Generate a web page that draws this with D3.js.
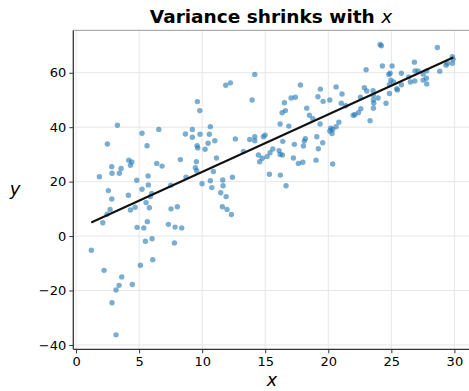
<!DOCTYPE html>
<html>
<head>
<meta charset="utf-8">
<script src="https://cdn.jsdelivr.net/npm/d3@7"></script>
<style>
  body { margin: 0; background: #fff; }
  svg text { font-family: "DejaVu Sans", sans-serif; fill: #000; }
  .grid line { stroke: #e6e6e6; stroke-width: 1; }
  .tick line { stroke: #333; }
</style>
</head>
<body>
<div id="viz"></div>
<script>
// scatter points
var xs = [1.85, 2.48, 3.28, 2.83, 2.85, 3.43, 3.57, 2.56, 4.18, 4.42, 4.31, 4.81, 5.23, 5.63, 5.71, 5.73, 5.23, 6.40, 6.82, 6.56,
  7.51, 8.27, 8.67, 9.22, 9.22, 9.62, 9.81, 9.60, 9.65, 9.83, 9.54, 9.46, 9.57, 9.99, 10.23, 10.47, 10.57, 10.65, 8.72,
  2.83, 4.15, 6.00, 5.89, 5.55, 5.81, 4.68, 4.31, 2.70, 2.46, 2.12, 7.53, 8.03, 5.65, 4.84, 5.37, 7.32, 7.85, 8.38,
  1.21, 5.50, 6.03, 7.80, 6.08, 5.10, 2.22, 3.62, 3.41, 3.17, 4.46, 2.85, 3.17,
  14.17, 11.87, 12.24, 13.96, 11.0, 11.13, 10.89, 10.65, 10.76, 11.63, 11.66, 12.40, 12.63, 13.27, 13.77, 14.17, 14.17,
  14.85, 14.99, 14.46, 14.56, 14.77, 15.15, 15.38, 15.60, 15.33, 16.20, 16.65, 16.10, 16.18, 16.36, 16.18, 16.39, 16.87,
  16.34, 16.60, 16.52, 17.05, 17.39, 17.79, 18.29, 18.50, 18.77, 17.31, 17.23, 17.63, 17.98, 18.03, 18.18, 18.10, 19.09,
  19.21, 19.56, 19.03, 19.35, 19.18, 19.37, 19.59, 20.12, 20.62, 20.20, 20.35, 20.12, 20.30, 20.62, 20.84, 20.35,
  11.47, 11.90, 11.60, 11.97, 12.32,
  24.11, 24.21, 28.65, 29.84, 29.90, 29.84, 29.34, 29.44, 28.84, 26.83, 27.81, 27.12, 26.88, 27.52, 27.78, 27.52, 27.81,
  26.86, 26.51, 26.38, 25.80, 25.80, 25.43, 25.48, 25.06, 24.29, 24.90, 24.80, 24.96, 25.16, 24.85, 24.85, 24.58, 23.00,
  22.86, 23.05, 23.55, 23.58, 23.95, 23.58, 23.61, 23.58, 22.55, 21.09, 21.03, 21.39, 22.58, 22.39, 22.10, 21.98, 23.31];
var ys = [21.8, 33.8, 40.7, 25.5, 23.1, 23.1, 24.8, 16.7, 27.9, 27.2, 26.0, 20.5, 37.8, 33.2, 22.1, 18.8, 17.2, 26.7, 25.7, 39.2,
  18.7, 28.1, 37.5, 39.2, 36.3, 49.4, 46.1, 33.2, 32.4, 37.4, 27.3, 25.1, 24.0, 19.2, 31.9, 34.1, 37.4, 40.2, 21.6,
  13.6, 15.0, 15.7, 14.5, 12.3, 10.4, 10.6, 9.6, 9.8, 8.0, 4.9, 10.0, 10.8, 5.3, 3.2, 3.0, 4.3, 3.3, 3.0,
  -5.2, -1.9, -1.0, -2.5, -8.7, -10.7, -12.6, -15.0, -18.1, -19.8, -17.8, -24.5, -36.3,
  59.4, 55.4, 56.3, 50.0, 35.0, 28.7, 23.7, 20.3, 17.8, 20.6, 18.5, 21.6, 35.7, 31.1, 35.5, 36.5, 35.0,
  36.5, 37.1, 29.8, 27.3, 28.6, 29.2, 30.6, 32.0, 22.7, 22.4, 18.5, 31.4, 30.0, 29.8, 41.2, 34.8, 40.4,
  45.3, 46.1, 49.0, 50.7, 51.0, 55.5, 47.0, 44.4, 43.1, 33.7, 28.7, 26.7, 27.1, 33.1, 35.8, 34.9, 36.5,
  32.1, 34.3, 27.9, 41.2, 51.2, 54.0, 49.5, 50.0, 54.8, 39.6, 39.2, 38.6, 37.7, 40.2, 41.8, 26.5,
  15.9, 14.5, 10.8, 9.8, 7.9,
  70.4, 69.9, 69.3, 65.9, 65.0, 63.5, 62.8, 63.5, 60.6, 63.9, 60.7, 60.7, 60.7, 59.5, 58.0, 57.3, 55.9,
  57.0, 56.6, 58.5, 59.8, 55.6, 54.1, 53.7, 62.5, 62.5, 59.8, 59.4, 57.3, 56.6, 55.7, 52.4, 48.8, 61.1,
  54.5, 53.3, 53.4, 51.7, 50.7, 50.0, 48.8, 47.0, 51.0, 52.2, 48.8, 47.9, 46.8, 45.3, 44.6, 44.4, 42.4];

// fitted line ends
var lineX = [1.2, 29.9];
var lineY = [5.0, 65.6];

var xTicks = [0, 5, 10, 15, 20, 25, 30];
var yTicks = [-40, -20, 0, 20, 40, 60];

var W = 469, H = 391;
var plotL = 73.3, plotR = 473.3, plotT = 30.3, plotB = 349.3;

var svg = d3.select("#viz").append("svg")
  .attr("width", W)
  .attr("height", H);

var x = d3.scaleLinear().domain([-0.22, 31.5]).range([plotL, plotR]);
var y = d3.scaleLinear().domain([-41.6, 75.6]).range([plotB, plotT]);

// grid
var grid = svg.append("g").attr("class", "grid");
xTicks.forEach(function(t) {
  grid.append("line")
    .attr("x1", x(t)).attr("x2", x(t))
    .attr("y1", plotT).attr("y2", plotB);
});
yTicks.forEach(function(t) {
  grid.append("line")
    .attr("x1", plotL).attr("x2", plotR)
    .attr("y1", y(t)).attr("y2", y(t));
});

// points
var pts = xs.map(function(v, i) { return { x: v, y: ys[i] }; });
svg.append("g").selectAll("circle")
  .data(pts)
  .enter().append("circle")
  .attr("cx", function(d) { return x(d.x); })
  .attr("cy", function(d) { return y(d.y); })
  .attr("r", 2.7)
  .attr("fill", "#1f77b4")
  .attr("fill-opacity", 0.6);

// fit line
svg.append("path")
  .datum(lineX.map(function(v, i) { return [v, lineY[i]]; }))
  .attr("d", d3.line().x(function(d) { return x(d[0]); }).y(function(d) { return y(d[1]); }))
  .attr("fill", "none")
  .attr("stroke", "#111")
  .attr("stroke-width", 2.1);

// axes
var xAxis = svg.append("g")
  .attr("transform", "translate(0," + plotB + ")")
  .call(d3.axisBottom(x).tickValues(xTicks).tickSize(4).tickPadding(3));
var yAxis = svg.append("g")
  .attr("transform", "translate(" + plotL + ",0)")
  .call(d3.axisLeft(y).tickValues(yTicks).tickSize(4).tickPadding(3)
    .tickFormat(function(d) { return d < 0 ? "\u2212" + Math.abs(d) : d; }));
[xAxis, yAxis].forEach(function(a) {
  a.select(".domain").remove();
  a.selectAll("text").style("font-family", "DejaVu Sans").style("font-size", "13px").attr("fill", "#111");
});

// spines
svg.append("line").attr("x1", plotL).attr("x2", plotL).attr("y1", plotT).attr("y2", plotB)
  .attr("stroke", "#333").attr("stroke-width", 1.3);
svg.append("line").attr("x1", plotL).attr("x2", plotR).attr("y1", plotB).attr("y2", plotB)
  .attr("stroke", "#333").attr("stroke-width", 1.3);
svg.append("line").attr("x1", plotL).attr("x2", plotR).attr("y1", plotT).attr("y2", plotT)
  .attr("stroke", "#999").attr("stroke-width", 1);

// labels
var title = svg.append("text")
  .attr("x", 271).attr("y", 23)
  .attr("text-anchor", "middle")
  .style("font-size", "18.5px");
title.append("tspan").style("font-weight", "bold").text("Variance shrinks with ");
title.append("tspan").style("font-style", "italic").text("x");

svg.append("text")
  .attr("x", 272).attr("y", 386)
  .attr("text-anchor", "middle")
  .style("font-size", "17.5px").style("font-style", "italic")
  .text("x");

svg.append("text")
  .attr("x", 15).attr("y", 195)
  .attr("text-anchor", "middle")
  .style("font-size", "18px").style("font-style", "italic")
  .text("y");
</script>
</body>
</html>
